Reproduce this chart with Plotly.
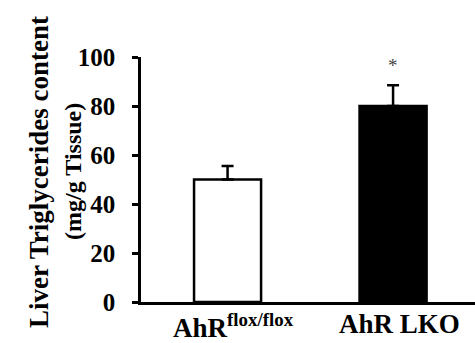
import plotly.graph_objects as go

categories = ["AhR<sup>flox/flox</sup>", "AhR LKO"]
values = [50, 80]
errors = [5.5, 8.5]
bar_colors = ["white", "black"]
sig_labels = ["", "*"]
y_ticks = [0, 20, 40, 60, 80, 100]

FONT = "Liberation Serif"

fig = go.Figure()
fig.add_trace(go.Bar(
    x=[0, 1], y=values, width=0.405,
    marker=dict(color=bar_colors, line=dict(color="black", width=2.5)),
    error_y=dict(type="data", array=errors, arrayminus=[0, 0], symmetric=False,
                 color="black", thickness=2.5, width=6),
    hoverinfo="skip",
))

for i, s in enumerate(sig_labels):
    if s:
        fig.add_annotation(x=i, y=values[i] + errors[i] + 3, text=s, showarrow=False,
                           yanchor="bottom", font=dict(family=FONT, size=19, color="#444"))

for i, c in enumerate(categories):
    fig.add_annotation(x=i, y=0, yref="y", text="<b>%s</b>" % c, showarrow=False,
                       yanchor="top", yshift=-5, xshift=6, font=dict(family=FONT, size=27, color="black"))

fig.add_annotation(xref="paper", yref="paper", x=-0.356, y=0.531, text="<b>Liver Triglycerides content</b>",
                   textangle=-90, showarrow=False, font=dict(family=FONT, size=27, color="black"))
fig.add_annotation(xref="paper", yref="paper", x=-0.2485, y=0.531, text="<b>(mg/g Tissue)</b>",
                   textangle=-90, showarrow=False, font=dict(family=FONT, size=24, color="black"))

fig.update_layout(
    width=475, height=343,
    margin=dict(l=141, r=0, t=57, b=41),
    paper_bgcolor="white", plot_bgcolor="white",
    showlegend=False,
    font=dict(family=FONT, color="black"),
    xaxis=dict(range=[-0.523, 1.495], tickvals=[0, 1], showticklabels=False,
               showline=True, linecolor="black", linewidth=2.5, ticks="", showgrid=False,
               zeroline=False, automargin=False),
    yaxis=dict(range=[0, 100], tickvals=y_ticks, ticktext=["<b>%d</b>" % t for t in y_ticks],
               showline=True, linecolor="black", linewidth=2.5, ticks="outside", ticklen=6,
               tickwidth=2.5, tickcolor="black", showgrid=False, zeroline=False, automargin=False,
               tickfont=dict(family=FONT, size=25, color="black"), ticklabelstandoff=12),
)

fig.write_html("out.html", config={"displayModeBar": False},
               post_script="document.body.style.margin='0px';document.body.style.overflow='hidden';")
